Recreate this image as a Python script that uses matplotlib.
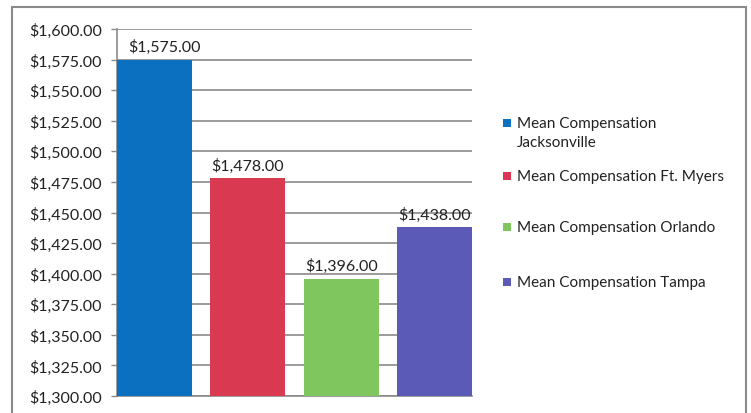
import matplotlib.pyplot as plt
from matplotlib.patches import Rectangle
from matplotlib.ticker import FuncFormatter, MultipleLocator

series = ["Mean Compensation\nJacksonville", "Mean Compensation Ft. Myers",
          "Mean Compensation Orlando", "Mean Compensation Tampa"]
values = [1575.00, 1478.00, 1396.00, 1438.00]
colors = ["#0A70BF", "#D93A52", "#80C65E", "#5B5BB7"]

plt.rcParams['font.family'] = ['Lato', 'DejaVu Sans']

W, H = 751, 414
fig = plt.figure(figsize=(W/100, H/100), dpi=100)
fig.patch.set_facecolor('white')
ax = fig.add_axes([117/W, 1-397/H, (472-117)/W, (397-30)/H])

for i, (v, c, s) in enumerate(zip(values, colors, series)):
    ax.bar(i, v - 1300, bottom=1300, width=0.8, color=c, label=s, zorder=3)
    dx = 7 if i == 0 else 0  # Excel keeps the first label clear of the axis
    ax.annotate(f"${v:,.2f}", xy=(i, v), xytext=(dx, 4), textcoords='offset points',
                ha='center', va='bottom', fontsize=11.5, color='#222222', zorder=4)

ax.set_ylim(1300, 1600)
ax.set_xlim(-0.4, 3.4)
ax.yaxis.set_major_locator(MultipleLocator(25))
ax.yaxis.set_major_formatter(FuncFormatter(lambda y, p: f"${y:,.2f}"))
ax.set_xticks([])
ax.grid(axis='y', color='#8a8a8a', linewidth=1.2, zorder=0)
ax.tick_params(axis='y', length=4, width=1, color='#8a8a8a', labelsize=11.5, labelcolor='#222222', pad=7)
for s in ['top', 'right']:
    ax.spines[s].set_visible(False)
for s in ['left', 'bottom']:
    ax.spines[s].set_color('#8a8a8a')
    ax.spines[s].set_linewidth(1.2)

# legend drawn manually (Excel-style spacing)
leg_y = [124, 177, 228, 283]
for y, c, s in zip(leg_y, colors, series):
    fig.patches.append(Rectangle((503/W, 1-(y+4)/H), 8/W, 8/H, transform=fig.transFigure,
                                 facecolor=c, edgecolor='none'))
    fig.text(517/W, 1-(y-7)/H, s, ha='left', va='top', fontsize=11, color='#222222',
             linespacing=1.45)

fig.patches.append(Rectangle((12/W, -0.05), (746-12)/W, 1.05 - 8/H,
                             transform=fig.transFigure, fill=False, edgecolor='#8a8a8a', linewidth=1.5))

fig.savefig('out.png', dpi=100)
